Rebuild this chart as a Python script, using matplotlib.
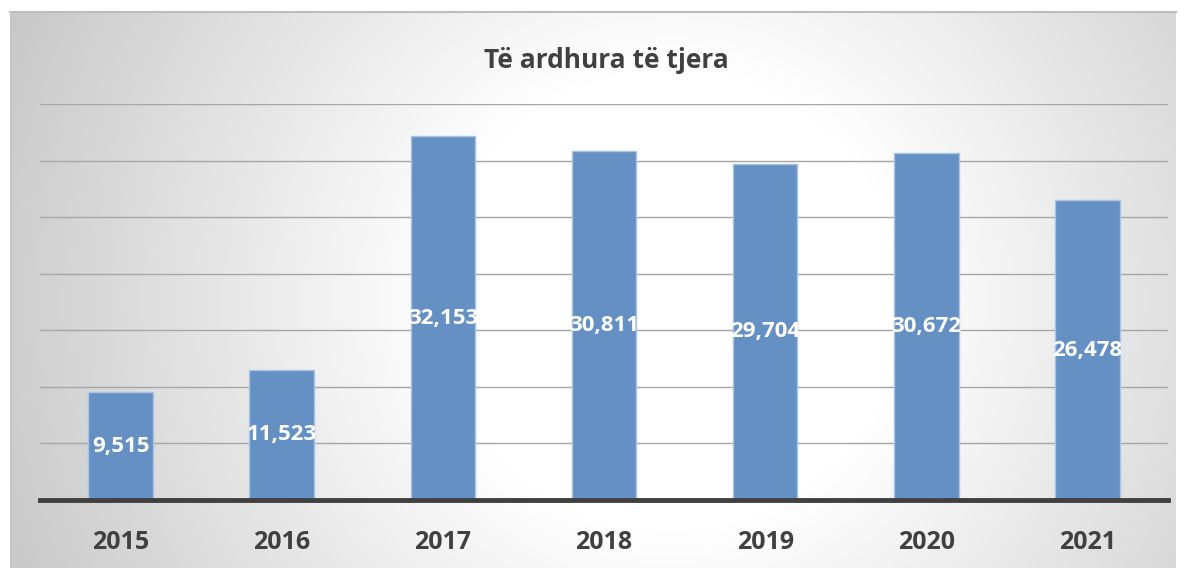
import numpy as np
import matplotlib
matplotlib.use("Agg")
import matplotlib.pyplot as plt

years = ["2015", "2016", "2017", "2018", "2019", "2020", "2021"]
values = [9515, 11523, 32153, 30811, 29704, 30672, 26478]
title = "Të ardhura të tjera"

W, H = 1186, 568
fig = plt.figure(figsize=(W / 100, H / 100), dpi=100)
fig.patch.set_facecolor("white")

# background panel with radial gradient
bg = fig.add_axes([10 / W, 0, 1166 / W, (H - 12) / H])
yy, xx = np.mgrid[0:556, 0:1166]
cx, cy = 660, 300
r = np.sqrt((xx - cx) ** 2 + ((yy - (cy - 12)) * 1.0) ** 2)
t = np.clip((r - 230) / 520, 0, 1)
g = 1.0 - t * (1.0 - 0.77)
img = np.dstack([g, g, g])
bg.imshow(img, aspect="auto", interpolation="bilinear")
bg.set_axis_off()
fig.add_artist(plt.Line2D([10 / W, 1176 / W], [1 - 12 / H, 1 - 12 / H], color="#bdbdbd", lw=1.5))
fig.add_artist(plt.Line2D([10.5 / W, 10.5 / W], [0, 1 - 12 / H], color="#c4c4c4", lw=1.2))

x0, x1 = 40, 1168
yb, yt = 500, 104
ax = fig.add_axes([x0 / W, 1 - yb / H, (x1 - x0) / W, (yb - yt) / H])
ax.patch.set_alpha(0)
x = np.arange(len(years))
ax.bar(x, values, width=0.4, color="#6590c4", edgecolor="#a9c3e4", linewidth=1.0, zorder=3)
ax.set_xlim(-0.5, len(years) - 0.5)
ax.set_ylim(0, 35000)
ax.set_yticks(np.arange(5000, 35001, 5000))
ax.yaxis.grid(True, color="#a6a6a6", lw=1.0, zorder=0)
ax.tick_params(axis="y", left=False, labelleft=False)
ax.tick_params(axis="x", bottom=False, pad=18)
ax.set_xticks(x)
ax.set_xticklabels(years, fontsize=18, fontweight="bold", color="#404040", family="Open Sans")
for s in ["top", "right", "left"]:
    ax.spines[s].set_visible(False)
ax.spines["bottom"].set_color("#404040")
ax.spines["bottom"].set_linewidth(3.5)
ax.spines["bottom"].set_zorder(5)

for xi, v in zip(x, values):
    ax.text(xi, v / 2, f"{v:,}", ha="center", va="center", color="white",
            fontsize=16, fontweight="bold", family="Open Sans", zorder=4)

fig.text(606 / W, 1 - 60 / H, title, ha="center", va="center", fontsize=19,
         fontweight="bold", color="#404040", family="Open Sans")

fig.savefig("out.png", dpi=100)
